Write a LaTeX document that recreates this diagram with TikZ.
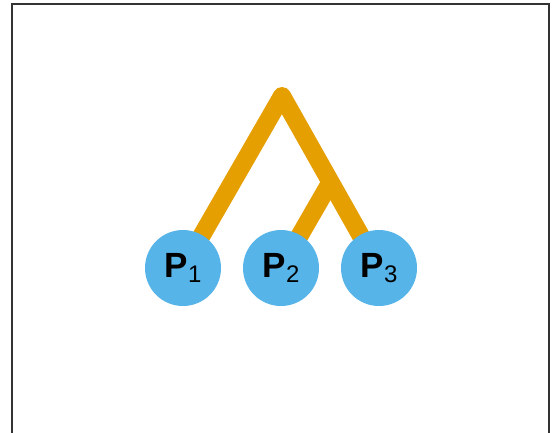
\documentclass[tikz,border=0pt]{standalone}
\usepackage{fontspec}
\setmainfont{Liberation Sans}
\definecolor{branch}{HTML}{E69F00}
\definecolor{leaf}{HTML}{56B4E9}
\definecolor{framec}{HTML}{333333}
\newcommand{\plabel}[1]{{\fontsize{35}{35}\selectfont\bfseries P}\raisebox{-5pt}{\fontsize{24}{24}\selectfont #1}}
\begin{document}
\begin{tikzpicture}[x=1pt,y=-1pt,
  branchline/.style={draw=branch,line width=18pt,line join=round,line cap=round},
  leafnode/.style={circle,fill=leaf,minimum size=76pt,inner sep=0pt},
  framebox/.style={draw=framec,line width=2pt}]
\useasboundingbox (0,0) rectangle (554,432);
\fill[white] (0,0) rectangle (554,432);
\draw[framebox] (12,440) -- (12,4) -- (549,4) -- (549,440);
\coordinate (apex) at (282,96);
\coordinate (c1) at (183,268);
\coordinate (c2) at (281,268);
\coordinate (c3) at (379,268);
\coordinate (junc) at (330,183);
\draw[branchline] (c1) -- (apex) -- (c3);
\draw[branchline,line cap=butt] (c2) -- (junc);
\node[leafnode] (p1) at (c1) {\plabel{1}};
\node[leafnode] (p2) at (c2) {\plabel{2}};
\node[leafnode] (p3) at (c3) {\plabel{3}};
\end{tikzpicture}
\end{document}
